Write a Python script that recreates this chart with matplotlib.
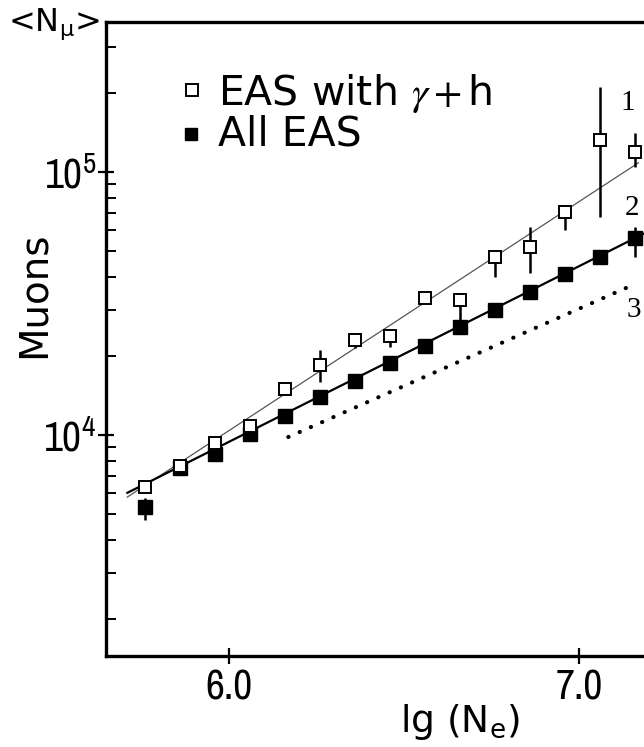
import numpy as np
import matplotlib
matplotlib.use("Agg")
import matplotlib.pyplot as plt
from matplotlib.ticker import FixedLocator, LogLocator, NullFormatter, FuncFormatter

# lg(Ne) bins
lg_ne = [5.76, 5.86, 5.96, 6.06, 6.16, 6.26, 6.36, 6.46, 6.56, 6.66, 6.76, 6.86, 6.96, 7.06, 7.16]

# <N_mu>, all EAS (filled squares)
mu_all = [5330, 7500, 8470, 10090, 11810, 13940, 16040, 18790, 21800, 25750,
          29870, 34980, 40950, 47500, 56100]
mu_all_lo = [4750, None, None, None, None, None, None, None, None, None,
             None, None, None, None, 47500]
mu_all_hi = [5750, None, None, None, None, None, None, None, None, None,
             None, None, None, None, 61800]

# <N_mu>, EAS with gamma + h (open squares)
mu_gh = [6340, 7620, 9330, 10820, 14960, 18460, 22970, 23790, 33180, 32600,
         47500, 51900, 70500, 132300, 119100]
mu_gh_lo = [None, None, None, None, 14190, 15910, 21430, 21620, None, 26900,
            39900, 41300, 60100, 67400, 104500]
mu_gh_hi = [None, None, None, None, 15780, 21040, 23990, None, None, 34670,
            49640, 61800, 74900, 210400, 140700]

# curves 1, 2, 3
fit1_x, fit1_y = [5.71, 7.17], [5810, 108400]
fit2_x, fit2_y = [5.71, 7.30], [6030, 69500]
fit3_x, fit3_y = [6.17, 7.14], [9830, 36500]

x_ticks = [6.0, 7.0]
curve_labels = ["1", "2", "3"]
curve_label_x = [7.140, 7.151, 7.157]
curve_label_y = [182800, 72950, 29870]

W, H = 644, 747


def fx(px):
    return px / W


def fy(py):
    return 1 - py / H


def err(vals, lo, hi):
    down = [v - l if l is not None else 0 for v, l in zip(vals, lo)]
    up = [h - v if h is not None else 0 for v, h in zip(vals, hi)]
    return [down, up]


plt.rcParams['mathtext.fontset'] = 'dejavusans'
tick_font = ['Liberation Sans Narrow', 'Archivo Narrow', 'DejaVu Sans']

fig = plt.figure(figsize=(W / 100, H / 100), dpi=100)
# the right part of the frame runs off the picture, as in the original
ax = fig.add_axes([fx(106), fy(656), (7.30 - 5.649) * 350 / W, (656 - 22) / H])

ax.plot(fit1_x, fit1_y, color='#555555', lw=0.9, zorder=2)
ax.plot(fit2_x, fit2_y, color='black', lw=1.6, zorder=2)
ax.plot(fit3_x, fit3_y, color='black', lw=3.0, linestyle=(0, (0.05, 2.9)),
        dash_capstyle='round', zorder=2)

ax.errorbar(lg_ne, mu_gh, yerr=err(mu_gh, mu_gh_lo, mu_gh_hi), fmt='s',
            ms=8.5, mfc='white', mec='black', mew=1.4, ecolor='black',
            elinewidth=1.8, capsize=0, zorder=4)
ax.errorbar(lg_ne, mu_all, yerr=err(mu_all, mu_all_lo, mu_all_hi), fmt='s',
            ms=10, mfc='black', mec='black', ecolor='black',
            elinewidth=1.8, capsize=0, zorder=3)

for lab, lx, ly in zip(curve_labels, curve_label_x, curve_label_y):
    ax.text(lx, ly, lab, family='Liberation Serif', fontsize=21,
            ha='center', va='center', zorder=5)

ax.set_yscale('log')
ax.set_xlim(5.649, 7.30)
ax.set_ylim(1445, 3.72e5)

ax.xaxis.set_major_locator(FixedLocator(x_ticks))
ax.xaxis.set_major_formatter(FuncFormatter(lambda v, p: f"{v:.1f}"))
ax.xaxis.set_minor_locator(FixedLocator([]))
ax.yaxis.set_major_locator(FixedLocator([1e4, 1e5]))
ax.yaxis.set_major_formatter(FuncFormatter(
    lambda v, p: r"$\mathregular{10^{%d}}$" % int(round(np.log10(v)))))
ax.yaxis.set_minor_locator(LogLocator(base=10, subs=np.arange(2, 10)))
ax.yaxis.set_minor_formatter(NullFormatter())

ax.tick_params(which='major', direction='inout', length=12, width=1.6,
               labelsize=30, top=False, right=False)
ax.tick_params(axis='x', which='major', pad=3)
ax.tick_params(axis='y', which='major', pad=1)
ax.tick_params(which='minor', direction='in', length=7, width=1.4,
               top=False, right=False)
for lab in ax.get_xticklabels() + ax.get_yticklabels():
    lab.set_family(tick_font)

for side in ['left', 'bottom', 'top', 'right']:
    ax.spines[side].set_linewidth(2.4)

# legend
ax.plot([fx(192)], [fy(90)], 's', ms=8.5, mfc='white', mec='black', mew=1.4,
        transform=fig.transFigure, clip_on=False)
ax.plot([fx(191)], [fy(134)], 's', ms=8.5, mfc='black', mec='black',
        transform=fig.transFigure, clip_on=False)
fig.text(fx(218), fy(105), r"EAS with $\gamma + $h", fontsize=29.5,
         family='DejaVu Sans', math_fontfamily='stix', va='baseline')
fig.text(fx(218), fy(145), "All EAS", fontsize=29.5, family='DejaVu Sans',
         va='baseline')

# axis titles
fig.text(fx(8), fy(24), r"<N$_\mathregular{\mu}$>", fontsize=23,
         family='DejaVu Sans', va='center', ha='left')
fig.text(fx(34), fy(295), "Muons", fontsize=28, family='DejaVu Sans',
         rotation=90, ha='center', va='center')
fig.text(fx(460), fy(722), r"lg (N$_\mathregular{e}$)", fontsize=27,
         family='DejaVu Sans', ha='center', va='center')

fig.savefig('out.png', dpi=100)
